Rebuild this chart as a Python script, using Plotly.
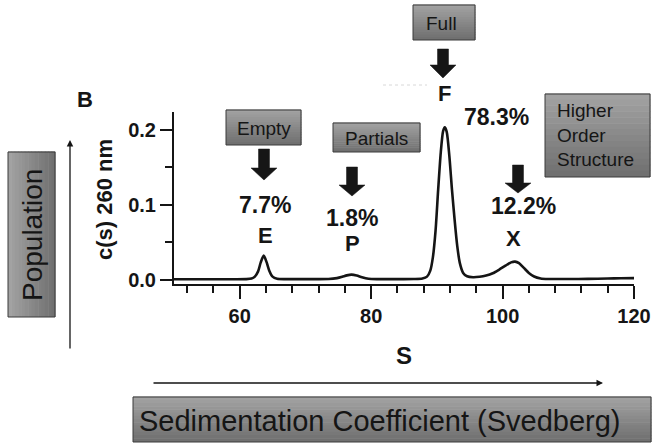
import plotly.graph_objects as go

# ---- sedimentation-velocity c(s) distribution (S, c(s) at 260 nm) ----
s_values = [50.0, 54.0, 58.0, 61.0, 61.8, 62.3, 62.8, 63.2, 63.65, 64.1, 64.5, 65.0, 65.7, 67.0,
            70.0, 73.5, 74.8, 75.6, 76.3, 77.0, 77.8, 78.6, 79.6, 81.0, 84.0, 86.5, 87.8,
            88.5, 89.0, 89.4, 89.8, 90.2, 90.6, 90.95, 91.2, 91.5, 91.9, 92.3, 92.7, 93.1,
            93.5, 94.0, 94.6, 95.5, 96.5, 97.5, 98.5, 99.5, 100.5, 101.3, 101.9, 102.5,
            103.2, 104.0, 104.8, 105.8, 107.0, 110.0, 113.0, 116.0, 118.0, 120.0]
cs_values = [0.0006, 0.0006, 0.0006, 0.0007, 0.0015, 0.004, 0.011, 0.023, 0.032, 0.023, 0.012, 0.004,
             0.0012, 0.0007, 0.0007, 0.0008, 0.002, 0.0038, 0.0057, 0.0067, 0.0056, 0.0032,
             0.0012, 0.0007, 0.0007, 0.0008, 0.0015, 0.004, 0.012, 0.03, 0.065, 0.12, 0.17,
             0.198, 0.203, 0.197, 0.165, 0.12, 0.08, 0.045, 0.022, 0.009, 0.0045, 0.0032,
             0.0038, 0.0055, 0.0085, 0.0135, 0.019, 0.023, 0.024, 0.022, 0.016, 0.009, 0.0042,
             0.0016, 0.0009, 0.0008, 0.001, 0.0016, 0.0019, 0.002]

x_tick_values = [60, 80, 100, 120]
y_tick_values = [0.0, 0.1, 0.2]
y_tick_labels = ["0.0", "0.1", "0.2"]

peak_letters = ["E", "P", "F", "X"]
peak_percents = ["7.7%", "1.8%", "78.3%", "12.2%"]
population_names = ["Empty", "Partials", "Full", "Higher<br>Order<br>Structure"]

# ---- page geometry (pixels) ----
W, H = 652, 443
ML, MR, MT, MB = 174, 18, 112, 159
PW, PH = W - ML - MR, H - MT - MB
FONT = "Liberation Sans, Arial, Helvetica, sans-serif"
INK = "#151515"


def px(x):
    return (x - ML) / PW


def py(y):
    return (H - MB - y) / PH


shapes = []
annotations = []


def grad_box(x0, y0, x1, y1, c_start=(0xA2, 0xA2, 0xA2), c_end=(0x70, 0x70, 0x70),
             horizontal=False, bands=14):
    for i in range(bands):
        t = i / (bands - 1)
        col = "rgb(%d,%d,%d)" % tuple(round(a + (b - a) * t) for a, b in zip(c_start, c_end))
        if horizontal:
            bx0 = x0 + (x1 - x0) * i / bands
            bx1 = x0 + (x1 - x0) * (i + 1) / bands
            by0, by1 = y0, y1
        else:
            by0 = y0 + (y1 - y0) * i / bands
            by1 = y0 + (y1 - y0) * (i + 1) / bands
            bx0, bx1 = x0, x1
        shapes.append(dict(type="rect", xref="paper", yref="paper",
                           x0=px(bx0), x1=px(bx1 + 0.5), y0=py(by0 - 0.5), y1=py(by1),
                           fillcolor=col, line=dict(width=0), layer="above"))
    shapes.append(dict(type="rect", xref="paper", yref="paper",
                       x0=px(x0), x1=px(x1), y0=py(y0), y1=py(y1),
                       fillcolor="rgba(0,0,0,0)", line=dict(color="#3a3a3a", width=1),
                       layer="above"))


def block_arrow(cx, top, head, tip, shaft=5.5, wing=13):
    pts = [(cx - shaft, top), (cx + shaft, top), (cx + shaft, head), (cx + wing, head),
           (cx, tip), (cx - wing, head), (cx - shaft, head)]
    path = "M " + " L ".join("%.5f,%.5f" % (px(a), py(b)) for a, b in pts) + " Z"
    shapes.append(dict(type="path", xref="paper", yref="paper", path=path,
                       fillcolor="#161616", line=dict(color="#161616", width=0.5),
                       layer="above"))


def text(x, y, s, size, bold=False, angle=0, xanchor="center", align="center"):
    annotations.append(dict(x=px(x), y=py(y), xref="paper", yref="paper", text=s,
                            showarrow=False, xanchor=xanchor, yanchor="middle",
                            align=align, textangle=angle,
                            font=dict(family=FONT, size=size, color=INK,
                                      weight="bold" if bold else "normal")))


# population boxes with their pointers
grad_box(226, 110, 301, 145)
text(264, 128, population_names[0], 19)
block_arrow(264, 149, 168, 180)

grad_box(333, 123, 420, 152)
text(376, 138, population_names[1], 19)
block_arrow(352, 167, 185, 196)

grad_box(413, 5, 475, 40)
text(441, 23, population_names[2], 19)
block_arrow(443, 49, 65, 78)

grad_box(545, 94, 650, 177)
text(555, 135, population_names[3], 19, xanchor="left", align="left")
block_arrow(518, 165, 183, 193)

# peak letters and their shares
for (lx, ly), (qx, qy), letter, pct in zip(
        [(265, 235), (352, 243), (444, 93), (513, 238)],
        [(265, 205), (352, 218), (496, 117), (523, 206)],
        peak_letters, peak_percents):
    text(lx, ly, letter, 22, bold=True)
    text(qx, qy, pct, 23, bold=True)

# faint dotted guide near the F label
shapes.append(dict(type="line", xref="paper", yref="paper", x0=px(383), x1=px(427),
                   y0=py(85), y1=py(85), line=dict(color="#d8d8d8", width=1, dash="dot")))

# panel letter and axis titles
text(85, 99, "B", 22, bold=True)
text(104, 200, "c(s) 260 nm", 22, bold=True, angle=-90)
text(404, 355, "S", 24, bold=True)

# outer "Population" / "Sedimentation Coefficient" framing
grad_box(8, 152, 55, 317, horizontal=True)
text(32, 235, "Population", 28, angle=-90)
grad_box(133, 397, 651, 442)
text(137, 421, "Sedimentation Coefficient (Svedberg)", 29, xanchor="left", align="left")

annotations.append(dict(x=px(70), y=py(140), xref="paper", yref="paper", text="",
                        showarrow=True, ax=0, ay=210, arrowhead=2, arrowsize=1,
                        arrowwidth=1.3, arrowcolor=INK))
annotations.append(dict(x=px(603), y=py(383), xref="paper", yref="paper", text="",
                        showarrow=True, ax=-451, ay=0, arrowhead=2, arrowsize=1,
                        arrowwidth=1.3, arrowcolor=INK))

fig = go.Figure()
fig.add_trace(go.Scatter(x=s_values, y=cs_values, mode="lines",
                         line=dict(color=INK, width=2.6, shape="spline", smoothing=0.7),
                         hoverinfo="skip", showlegend=False))

axis_common = dict(showline=True, linecolor=INK, linewidth=2, ticks="outside",
                   tickwidth=2, tickcolor=INK, showgrid=False, zeroline=False,
                   automargin=False,
                   tickfont=dict(family=FONT, size=20, color=INK, weight="bold"))

fig.update_layout(
    template="none",
    width=W, height=H,
    margin=dict(l=ML, r=MR, t=MT, b=MB, pad=0),
    paper_bgcolor="white", plot_bgcolor="white",
    showlegend=False,
    xaxis=dict(range=[50, 120], tickvals=x_tick_values, ticklen=13,
               minor=dict(dtick=4, tick0=0, ticklen=7, tickwidth=2, tickcolor=INK,
                          ticks="outside"),
               **axis_common),
    yaxis=dict(range=[-0.0058, 0.2235], tickvals=y_tick_values, ticktext=y_tick_labels,
               ticklen=12,
               minor=dict(dtick=0.05, tick0=0, ticklen=7, tickwidth=2, tickcolor=INK,
                          ticks="outside"),
               **axis_common),
    shapes=shapes,
    annotations=annotations,
)

fig.write_html("out.html")
